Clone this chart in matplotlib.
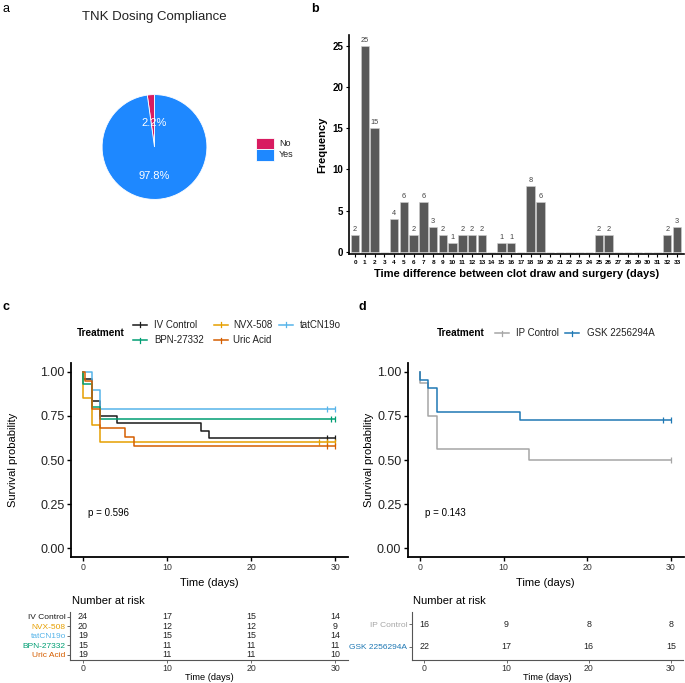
import matplotlib
matplotlib.use("Agg")
import matplotlib.pyplot as plt
from matplotlib.lines import Line2D
import numpy as np

plt.rcParams['font.family'] = ['Liberation Sans', 'DejaVu Sans']

W, H = 685, 683

# ---------------- data ----------------
pie_labels = ["No", "Yes"]
pie_values = [2.2, 97.8]
pie_colors = ["#D81B60", "#1E88FF"]

days = list(range(34))
freq = [2, 25, 15, 0, 4, 6, 2, 6, 3, 2, 1, 2, 2, 2, 0, 1, 1, 0, 8, 6,
        0, 0, 0, 0, 0, 2, 2, 0, 0, 0, 0, 0, 2, 3]

c_groups = ["IV Control", "NVX-508", "tatCN19o", "BPN-27332", "Uric Acid"]
c_colors = ["#1a1a1a", "#E69F00", "#56B4E9", "#009E73", "#D55E00"]
c_times = {
    "IV Control": [0, 0, 1, 2, 4, 14, 15, 30],
    "NVX-508": [0, 0, 1, 2, 30],
    "tatCN19o": [0, 1, 2, 30],
    "BPN-27332": [0, 0, 1, 2, 30],
    "Uric Acid": [0, 0.2, 1, 2, 5, 6, 30],
}
c_surv = {
    "IV Control": [1.0, 0.958, 0.833, 0.75, 0.708, 0.667, 0.625, 0.625],
    "NVX-508": [1.0, 0.85, 0.70, 0.60, 0.60],
    "tatCN19o": [1.0, 0.895, 0.789, 0.789],
    "BPN-27332": [1.0, 0.933, 0.80, 0.733, 0.733],
    "Uric Acid": [1.0, 0.947, 0.789, 0.684, 0.632, 0.579, 0.579],
}
c_censor = {
    "IV Control": [29, 30],
    "NVX-508": [28, 29, 30],
    "tatCN19o": [29, 30],
    "BPN-27332": [29.5, 30],
    "Uric Acid": [29, 30],
}
c_risk = {
    "IV Control": [24, 17, 15, 14],
    "NVX-508": [20, 12, 12, 9],
    "tatCN19o": [19, 15, 15, 14],
    "BPN-27332": [15, 11, 11, 11],
    "Uric Acid": [19, 11, 11, 10],
}
c_pval = "p = 0.596"

d_groups = ["IP Control", "GSK 2256294A"]
d_colors = ["#A6A6A6", "#1F78B4"]
d_times = {
    "IP Control": [0, 0, 1, 2, 13, 30],
    "GSK 2256294A": [0, 0, 1, 2, 12, 30],
}
d_surv = {
    "IP Control": [1.0, 0.9375, 0.75, 0.5625, 0.50, 0.50],
    "GSK 2256294A": [1.0, 0.955, 0.909, 0.773, 0.727, 0.727],
}
d_censor = {
    "IP Control": [30],
    "GSK 2256294A": [29, 30],
}
d_risk = {
    "IP Control": [16, 9, 8, 8],
    "GSK 2256294A": [22, 17, 16, 15],
}
d_pval = "p = 0.143"

risk_times = [0, 10, 20, 30]

# ---------------- helpers ----------------
fig = plt.figure(figsize=(W / 100, H / 100), dpi=100)


def ax_px(left, top, right, bottom):
    return fig.add_axes([left / W, 1 - bottom / H, (right - left) / W, (bottom - top) / H])


overlay = fig.add_axes([0, 0, 1, 1], zorder=10)
overlay.set_xlim(0, W)
overlay.set_ylim(H, 0)
overlay.axis("off")
overlay.patch.set_alpha(0)

# panel letters
overlay.text(3, 9, "a", fontsize=9, va="center", ha="left")
overlay.text(311, 9, "b", fontsize=9, fontweight="bold", va="center", ha="left")
overlay.text(3, 307, "c", fontsize=9, fontweight="bold", va="center", ha="left")
overlay.text(359, 307, "d", fontsize=9, fontweight="bold", va="center", ha="left")

# ---------------- panel a: pie ----------------
cx, cy, r = 154.5, 147, 65.5
axa = ax_px(cx - r, cy - r, cx + r, cy + r)
wedges, _ = axa.pie(pie_values, colors=pie_colors, startangle=90, counterclock=True,
                    wedgeprops=dict(edgecolor="white", linewidth=0.6))
axa.set_aspect("equal")
axa.text(0, 0.46, f"{pie_values[0]}%", color="white", fontsize=8, ha="center", va="center")
axa.text(0, -0.545, f"{pie_values[1]}%", color="white", fontsize=8, ha="center", va="center")
overlay.text(154.5, 17, "TNK Dosing Compliance", fontsize=9.5, ha="center", va="center", color="#222222")
for i, (lab, col) in enumerate(zip(pie_labels, pie_colors)):
    y0 = 137.5 + i * 11.5
    overlay.add_patch(plt.Rectangle((256, y0), 18, 11.5, facecolor=col, edgecolor="white", linewidth=0.6))
    overlay.text(279, y0 + 5.8, lab, fontsize=6.5, va="center", ha="left", color="#222222")

# ---------------- panel b: bars ----------------
axb = ax_px(349, 35, 684, 254)
axb.bar(days, freq, width=0.86, color="#595959", edgecolor="#cfcfcf", linewidth=0.4)
for d, f in zip(days, freq):
    if f > 0:
        axb.text(d, f + 0.25, str(f), ha="center", va="bottom", fontsize=5.3, color="#444444")
axb.set_xlim(-0.62, 33.72)
axb.set_ylim(-0.28, 26.34)
axb.set_xticks(days)
axb.set_xticklabels([str(d) for d in days], fontsize=4.6, fontweight="bold")
axb.set_yticks([0, 5, 10, 15, 20, 25])
axb.set_yticklabels(["0", "5", "10", "15", "20", "25"], fontsize=7, fontweight="bold")
for s in ["top", "right"]:
    axb.spines[s].set_visible(False)
for s in ["left", "bottom"]:
    axb.spines[s].set_linewidth(1.2)
axb.tick_params(axis="both", length=2.5, width=0.8, pad=1.5)
axb.set_ylabel("Frequency", fontsize=8, fontweight="bold", labelpad=4)
axb.set_xlabel("Time difference between clot draw and surgery (days)", fontsize=8,
               fontweight="bold", labelpad=3)


# ---------------- KM panels ----------------
def km_axes(ax, groups, colors, times, surv, censor, pval, ylab_x):
    for g, col in zip(groups, colors):
        ax.step(times[g], surv[g], where="post", color=col, linewidth=1.1)
        cs = censor[g]
        sv = [surv[g][-1]] * len(cs)
        ax.plot(cs, sv, linestyle="none", marker="|", markersize=4, color=col, markeredgewidth=0.9)
    ax.set_xlim(-1.5, 31.5)
    ax.set_ylim(-0.05, 1.05)
    ax.set_xticks([0, 10, 20, 30])
    ax.set_xticklabels(["0", "10", "20", "30"], fontsize=6.3, color="#333333")
    ax.set_yticks([0, 0.25, 0.5, 0.75, 1.0])
    ax.set_yticklabels(["0.00", "0.25", "0.50", "0.75", "1.00"], fontsize=9, color="#222222")
    for s in ["top", "right"]:
        ax.spines[s].set_visible(False)
    for s in ["left", "bottom"]:
        ax.spines[s].set_linewidth(1.3)
    ax.tick_params(axis="both", length=3, width=1.0, pad=1.5)
    ax.set_xlabel("Time (days)", fontsize=8, labelpad=4)
    ax.set_ylabel("Survival probability", fontsize=8)
    ax.yaxis.set_label_coords(ylab_x, 0.5)
    ax.text(0.6, 0.2, pval, fontsize=7, ha="left", va="center")


def risk_axes(ax, groups, colors, risk, ylim, labelsize=6):
    n = len(groups)
    ys = list(range(n, 0, -1))
    for g, col, y in zip(groups, colors, ys):
        for t, v in zip(risk_times, risk[g]):
            ax.text(t, y, str(v), ha="center", va="center", fontsize=6.4, color="#222222")
    ax.set_xlim(-1.5, 31.5)
    ax.set_ylim(*ylim)
    ax.set_yticks(ys)
    ax.set_yticklabels(groups, fontsize=labelsize)
    for lab, col in zip(ax.get_yticklabels(), colors):
        lab.set_color(col)
    ax.set_xticks([0, 10, 20, 30])
    ax.set_xticklabels(["0", "10", "20", "30"], fontsize=6.3, color="#333333")
    for s in ["top", "right"]:
        ax.spines[s].set_visible(False)
    for s in ["left", "bottom"]:
        ax.spines[s].set_linewidth(0.8)
        ax.spines[s].set_color("#555555")
    ax.tick_params(axis="both", length=2, width=0.6, pad=1.2, color="#555555")
    ax.set_xlabel("Time (days)", fontsize=6.7, labelpad=0)


axc = ax_px(70.7, 362.9, 347.9, 557.2)
km_axes(axc, c_groups, c_colors, c_times, c_surv, c_censor, c_pval, (18 - 70.7) / 277.2)
axct = ax_px(70.3, 611.7, 347.9, 660)
risk_axes(axct, c_groups, c_colors, c_risk, (0.44, 5.53))
overlay.text(72, 601, "Number at risk", fontsize=8, ha="left", va="center")

axd = ax_px(407.5, 362.9, 683.5, 557.2)
km_axes(axd, d_groups, d_colors, d_times, d_surv, d_censor, d_pval, (374 - 407.5) / 276.0)
axdt = ax_px(411.9, 611.7, 683.4, 660)
risk_axes(axdt, d_groups, d_colors, d_risk, (0.41, 2.56))
overlay.text(413, 601, "Number at risk", fontsize=8, ha="left", va="center")


# ---------------- legends (manual, ggplot-style) ----------------
def legend_entry(x_line, x_text, y, col, text):
    overlay.add_line(Line2D([x_line, x_line + 14], [y, y], color=col, linewidth=1.1))
    overlay.add_line(Line2D([x_line + 7, x_line + 7], [y - 2.5, y + 2.5], color=col, linewidth=0.9))
    overlay.text(x_text, y, text, fontsize=7, ha="left", va="center", color="#222222")


overlay.text(77, 332.5, "Treatment", fontsize=7.2, fontweight="bold", ha="left", va="center")
legend_entry(133, 154, 324.5, c_colors[0], c_groups[0])
legend_entry(214, 233, 324.5, c_colors[1], c_groups[1])
legend_entry(279, 300, 324.5, c_colors[2], c_groups[2])
legend_entry(133, 154, 340.3, c_colors[3], c_groups[3])
legend_entry(214, 233, 340.3, c_colors[4], c_groups[4])

overlay.text(437, 333.3, "Treatment", fontsize=7.2, fontweight="bold", ha="left", va="center")
legend_entry(495, 516, 333.3, d_colors[0], d_groups[0])
legend_entry(565, 587, 333.3, d_colors[1], d_groups[1])

fig.savefig("out.png", dpi=100)
